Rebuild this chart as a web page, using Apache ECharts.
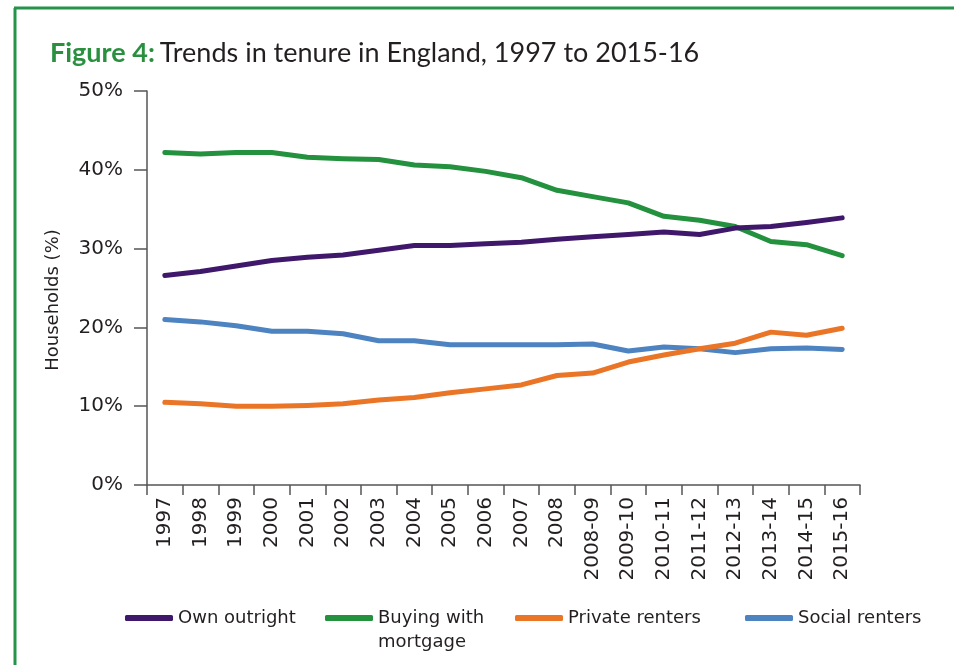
<!DOCTYPE html>
<html>
<head>
<meta charset="utf-8">
<script src="https://cdn.jsdelivr.net/npm/echarts@6/dist/echarts.min.js"></script>
<style>
  html, body { margin: 0; padding: 0; background: #fff; }
  #chart { width: 954px; height: 665px; }
</style>
</head>
<body>
<div id="chart"></div>
<script>
(function() {
    'use strict';

    // survey years on the x axis
    var years = ['1997', '1998', '1999', '2000', '2001', '2002', '2003', '2004', '2005', '2006',
        '2007', '2008', '2008-09', '2009-10', '2010-11', '2011-12', '2012-13', '2013-14', '2014-15', '2015-16'];

    // share of households (%)
    var ownOutright = [26.6, 27.1, 27.8, 28.5, 28.9, 29.2, 29.8, 30.4, 30.4, 30.6,
        30.8, 31.2, 31.5, 31.8, 32.1, 31.8, 32.6, 32.8, 33.3, 33.9];
    var buyingMortgage = [42.2, 42.0, 42.2, 42.2, 41.6, 41.4, 41.3, 40.6, 40.4, 39.8,
        39.0, 37.4, 36.6, 35.8, 34.1, 33.6, 32.8, 30.9, 30.5, 29.1];
    var privateRenters = [10.5, 10.3, 10.0, 10.0, 10.1, 10.3, 10.8, 11.1, 11.7, 12.2,
        12.7, 13.9, 14.2, 15.6, 16.5, 17.3, 18.0, 19.4, 19.0, 19.9];
    var socialRenters = [21.0, 20.7, 20.2, 19.5, 19.5, 19.2, 18.3, 18.3, 17.8, 17.8,
        17.8, 17.8, 17.9, 17.0, 17.5, 17.3, 16.8, 17.3, 17.4, 17.2];

    var yTicks = [0, 10, 20, 30, 40, 50];

    var textColor = '#231f20';
    var axisColor = '#555555';
    var frameGreen = '#25934a';
    var font = 'DejaVu Sans';
    var titleFont = 'Lato';

    var colors = {
        own: '#40186b',
        mortgage: '#23913e',
        priv: '#ea7526',
        social: '#4c83c0'
    };

    var chart = echarts.init(document.getElementById('chart'), null, { renderer: 'canvas' });

    function lineSeries(name, data, color) {
        return {
            name: name,
            type: 'line',
            data: data,
            symbol: 'none',
            smooth: false,
            color: color,
            lineStyle: { width: 5, color: color, cap: 'round', join: 'round' }
        };
    }

    // one legend per item so each can sit where the figure has it
    function legendAt(name, left, top, twoLines) {
        return {
            data: [name],
            left: left,
            top: top,
            icon: 'roundRect',
            itemWidth: 48,
            itemHeight: 6,
            itemGap: 8,
            // blank first line keeps the icon level with the first text line
            formatter: twoLines ? function(n) { return ' \n' + n; } : '{name}',
            textStyle: { color: textColor, fontSize: 18, fontFamily: font, lineHeight: 24 },
            padding: 0
        };
    }

    var option = {
        backgroundColor: '#ffffff',
        animation: false,
        title: {
            text: '{b|Figure 4:} {n|Trends in tenure in England, 1997 to 2015-16}',
            left: 45,
            top: 35,
            textStyle: {
                fontWeight: 'normal',
                rich: {
                    b: { color: '#2a9040', fontSize: 27, fontWeight: 'bold', fontFamily: titleFont },
                    n: { color: textColor, fontSize: 27, fontWeight: 'normal', fontFamily: titleFont }
                }
            }
        },
        graphic: [
            { type: 'line', shape: { x1: 14, y1: 8, x2: 954, y2: 8 }, style: { stroke: frameGreen, lineWidth: 3 } },
            { type: 'line', shape: { x1: 15, y1: 8, x2: 15, y2: 665 }, style: { stroke: frameGreen, lineWidth: 3 } }
        ],
        legend: [
            legendAt('Own outright', 125, 606, false),
            legendAt('Buying with\nmortgage', 325, 582, true),
            legendAt('Private renters', 515, 606, false),
            legendAt('Social renters', 745, 606, false)
        ],
        grid: { left: 147, right: 94, top: 91, bottom: 180, containLabel: false },
        xAxis: {
            type: 'category',
            data: years,
            boundaryGap: true,
            axisLine: { show: true, lineStyle: { color: axisColor, width: 1.5 } },
            axisTick: { show: true, inside: false, length: 10, interval: 0, lineStyle: { color: axisColor, width: 1.5 } },
            axisLabel: { interval: 0, rotate: 90, margin: 12, color: textColor, fontSize: 20, fontFamily: font },
            splitLine: { show: false }
        },
        yAxis: {
            type: 'value',
            min: yTicks[0],
            max: yTicks[yTicks.length - 1],
            interval: 10,
            name: 'Households (%)',
            nameLocation: 'middle',
            nameGap: 85,
            nameRotate: 90,
            nameTextStyle: { color: textColor, fontSize: 18, fontFamily: font, padding: [0, 24, 0, 0] },
            axisLine: { show: true, lineStyle: { color: axisColor, width: 1.5 } },
            axisTick: { show: true, length: 13, lineStyle: { color: axisColor, width: 1.5 } },
            axisLabel: {
                margin: 24,
                color: textColor,
                fontSize: 20,
                fontFamily: font,
                formatter: function(v) { return v + '%'; }
            },
            splitLine: { show: false }
        },
        series: [
            lineSeries('Buying with\nmortgage', buyingMortgage, colors.mortgage),
            lineSeries('Social renters', socialRenters, colors.social),
            lineSeries('Private renters', privateRenters, colors.priv),
            lineSeries('Own outright', ownOutright, colors.own)
        ]
    };

    chart.setOption(option);
})();
</script>
</body>
</html>
